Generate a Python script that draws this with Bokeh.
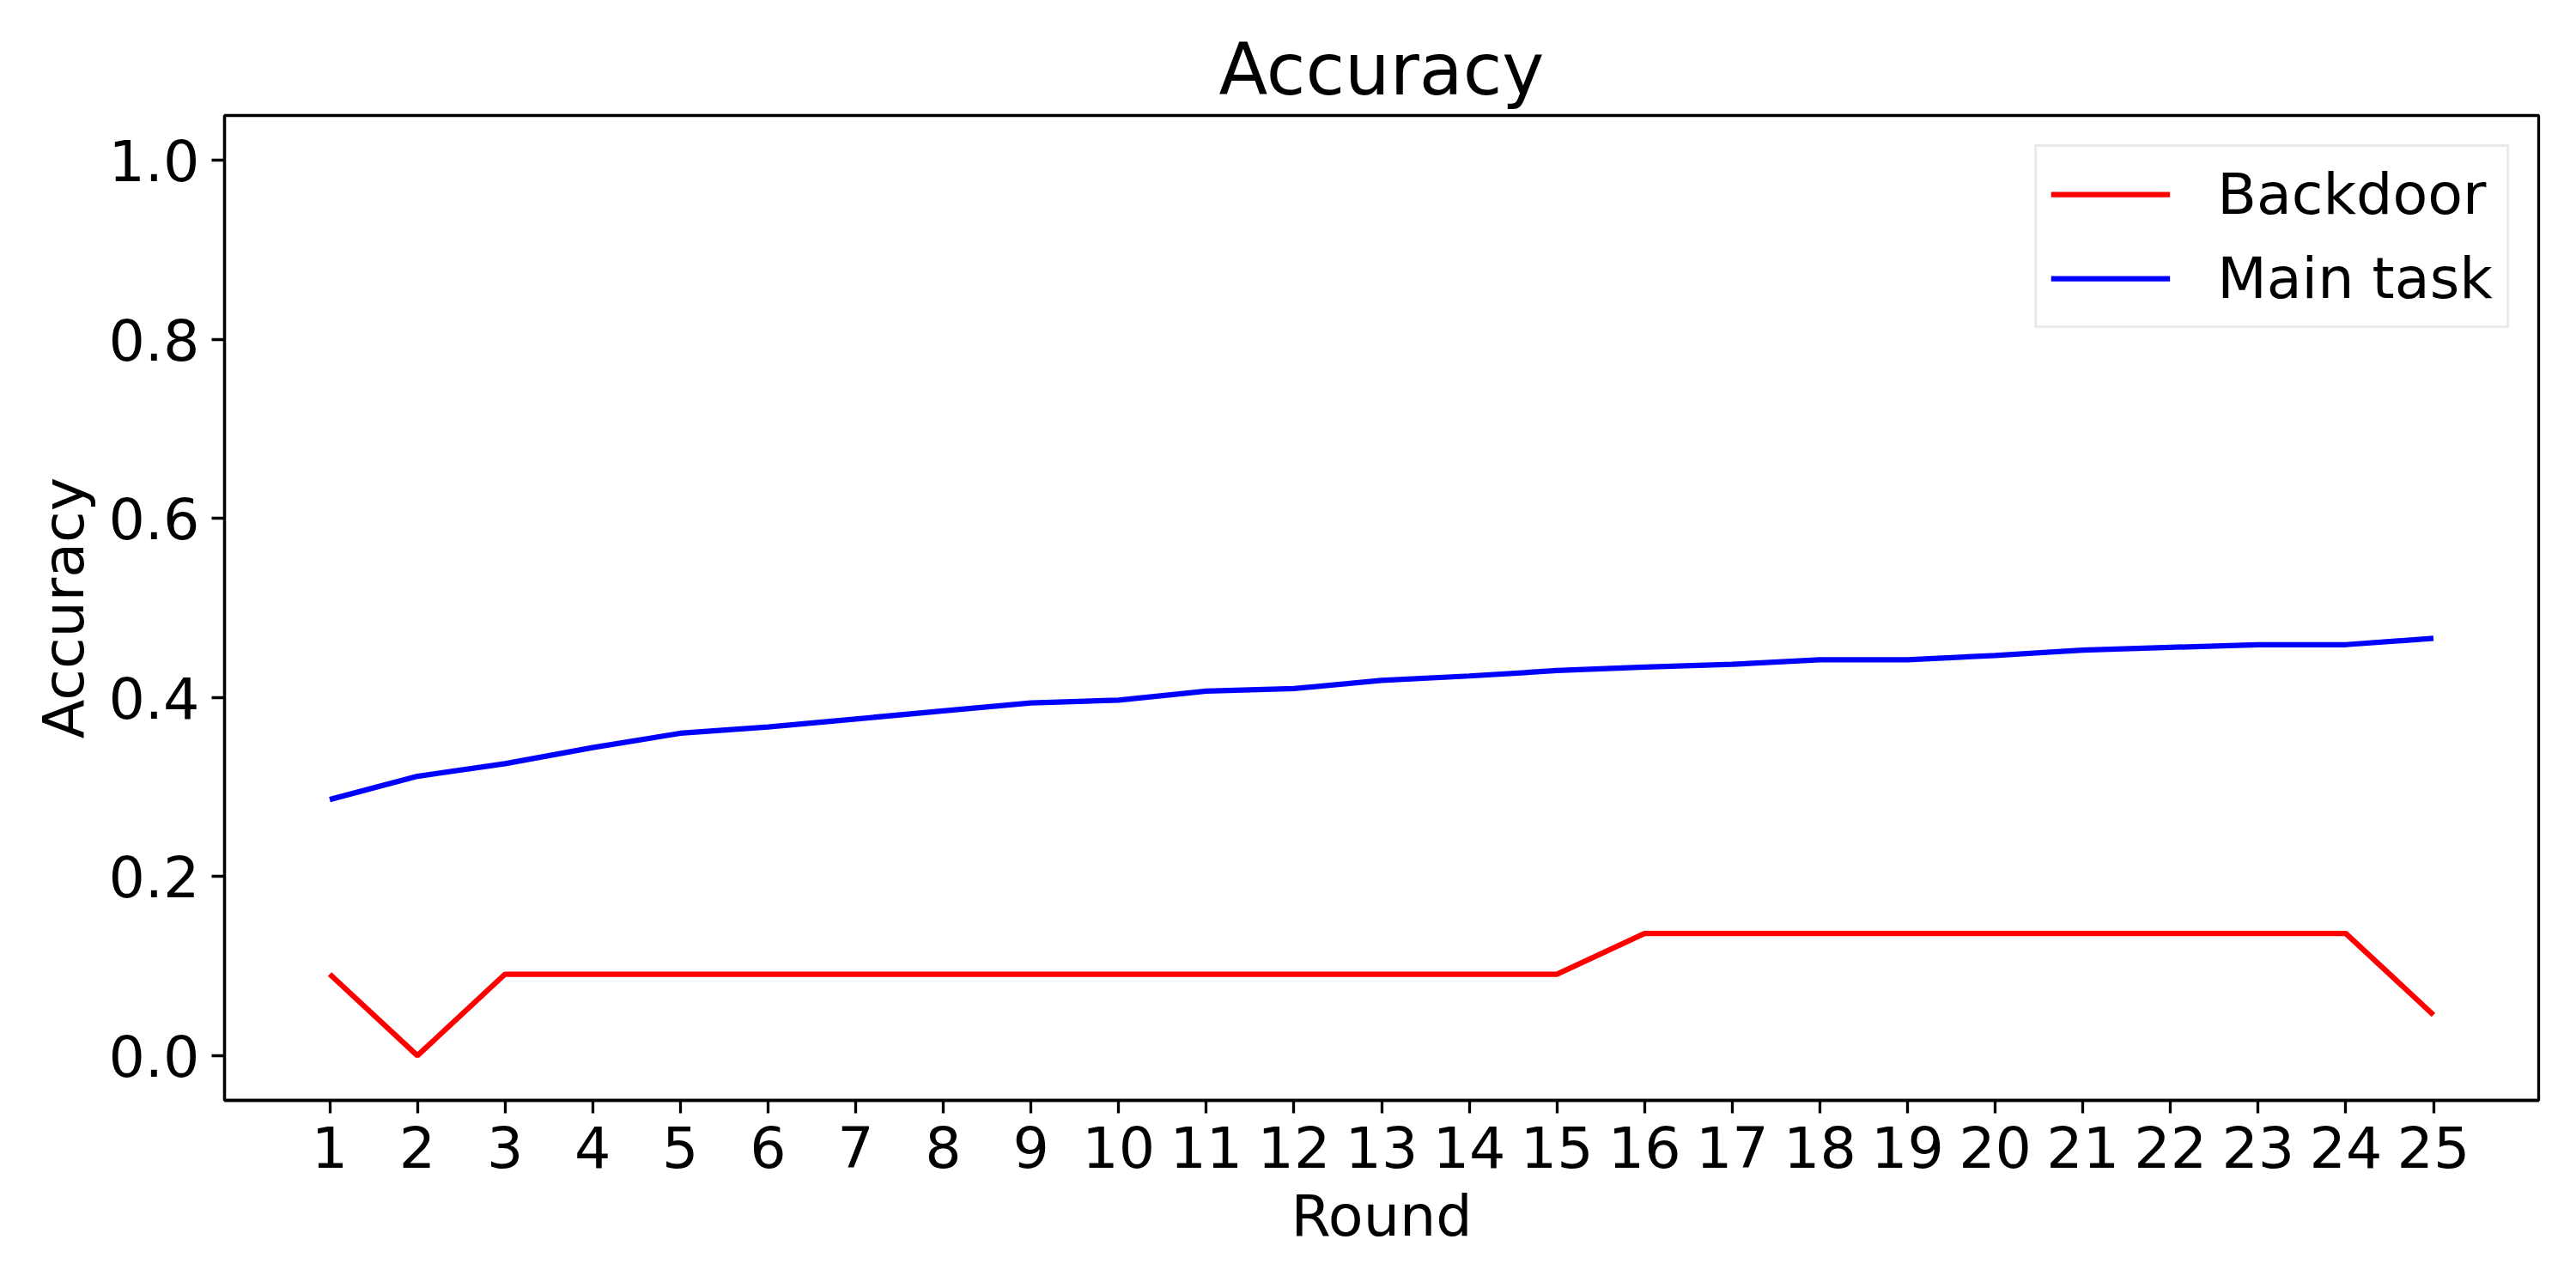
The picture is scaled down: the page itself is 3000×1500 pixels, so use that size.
from bokeh.plotting import figure
from bokeh.models import Range1d, FixedTicker, PrintfTickFormatter, Legend, LegendItem
from bokeh.embed import file_html
from bokeh.resources import INLINE

rounds = [1, 2, 3, 4, 5, 6, 7, 8, 9, 10, 11, 12, 13, 14, 15, 16, 17, 18, 19, 20, 21, 22, 23, 24, 25]
main_task = [0.286, 0.312, 0.326, 0.344, 0.360, 0.367, 0.376, 0.385, 0.394, 0.397,
             0.407, 0.410, 0.419, 0.424, 0.430, 0.434, 0.437, 0.442, 0.442, 0.447,
             0.453, 0.456, 0.459, 0.459, 0.466]
backdoor = [0.0909, 0.0, 0.0909, 0.0909, 0.0909, 0.0909, 0.0909, 0.0909, 0.0909, 0.0909,
            0.0909, 0.0909, 0.0909, 0.0909, 0.0909, 0.1364, 0.1364, 0.1364, 0.1364, 0.1364,
            0.1364, 0.1364, 0.1364, 0.1364, 0.0455]
y_ticks = [0.0, 0.2, 0.4, 0.6, 0.8, 1.0]

FONT = "DejaVu Sans"

p = figure(width=2984, height=1484, output_backend="svg", toolbar_location=None,
           x_range=Range1d(-0.2, 26.2), y_range=Range1d(-0.05, 1.05),
           min_border_left=261, min_border_right=28, min_border_top=134, min_border_bottom=203)

p.title.text = "Accuracy"
p.title.text_font = FONT
p.title.text_font_size = "83px"
p.title.text_font_style = "normal"
p.title.align = "center"
p.title.text_color = "black"

p.grid.visible = False
p.outline_line_color = "black"
p.outline_line_width = 3.3
p.background_fill_color = "white"
p.border_fill_color = "white"

for ax in (p.xaxis[0], p.yaxis[0]):
    ax.axis_line_color = "black"
    ax.axis_line_width = 3.3
    ax.major_tick_line_color = "black"
    ax.major_tick_line_width = 3.3
    ax.major_tick_in = 0
    ax.major_tick_out = 15
    ax.minor_tick_line_color = None
    ax.major_label_text_font = FONT
    ax.major_label_text_font_size = "66.7px"
    ax.major_label_text_color = "black"
    ax.major_label_standoff = 14
    ax.axis_label_text_font = FONT
    ax.axis_label_text_font_size = "66.7px"
    ax.axis_label_text_font_style = "normal"
    ax.axis_label_text_color = "black"

p.xaxis.ticker = FixedTicker(ticks=rounds)
p.yaxis.ticker = FixedTicker(ticks=y_ticks)
p.yaxis.formatter = PrintfTickFormatter(format="%.1f")
p.xaxis.axis_label = "Round"
p.yaxis.axis_label = "Accuracy"
p.xaxis.axis_label_standoff = 14
p.yaxis.axis_label_standoff = 10

r_back = p.line(rounds, backdoor, line_color="#ff0000", line_width=6.25)
r_main = p.line(rounds, main_task, line_color="#0000ff", line_width=6.25)

legend = Legend(items=[LegendItem(label="Backdoor", renderers=[r_back]),
                       LegendItem(label="Main task", renderers=[r_main])],
                location="top_right", margin=34)
legend.label_text_font = FONT
legend.label_text_font_size = "66.7px"
legend.label_text_color = "black"
legend.glyph_width = 139
legend.glyph_height = 78
legend.label_height = 78
legend.label_standoff = 55
legend.spacing = 20
legend.padding = 16
legend.border_line_color = "#d6d6d6"
legend.border_line_width = 3.5
legend.background_fill_color = "white"
legend.background_fill_alpha = 0.8
p.add_layout(legend)

open("out.html", "w").write(file_html(p, INLINE))
